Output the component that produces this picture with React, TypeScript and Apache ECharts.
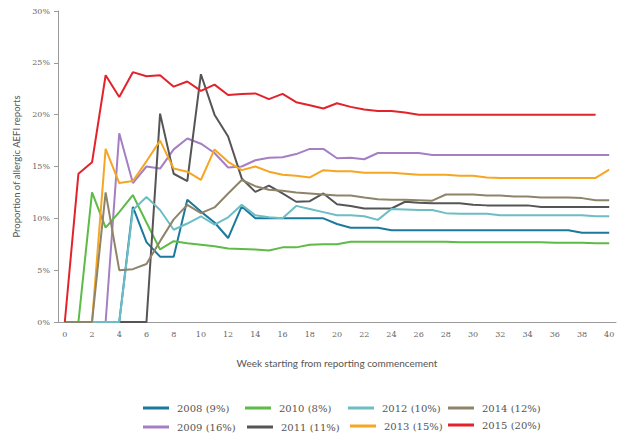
import React, { useEffect, useRef } from "react";
import * as echarts from "echarts";

const weeks = Array.from({ length: 41 }, (_, i) => String(i));

const s2008 = [0, 0, 0, 0, 0, 11.1, 7.7, 6.3, 6.3, 11.8, 10.65, 9.6, 8.1, 11.15, 10.0, 10.0, 10.0, 10.0, 10.0, 10.0, 9.45, 9.1, 9.1, 9.1, 8.85, 8.85, 8.85, 8.85, 8.85, 8.85, 8.85, 8.85, 8.85, 8.85, 8.85, 8.85, 8.85, 8.85, 8.6, 8.6, 8.6];
const s2009 = [0, 0, 0, 0, 18.2, 13.4, 15.0, 14.8, 16.65, 17.7, 17.2, 16.3, 14.9, 15.0, 15.6, 15.85, 15.9, 16.2, 16.7, 16.7, 15.8, 15.85, 15.7, 16.3, 16.3, 16.3, 16.3, 16.1, 16.1, 16.1, 16.1, 16.1, 16.1, 16.1, 16.1, 16.1, 16.1, 16.1, 16.1, 16.1, 16.1];
const s2010 = [0, 0, 12.5, 9.1, 10.6, 12.25, 9.6, 7.0, 7.8, 7.6, 7.45, 7.3, 7.1, 7.05, 7.0, 6.9, 7.2, 7.2, 7.45, 7.5, 7.5, 7.75, 7.75, 7.75, 7.75, 7.75, 7.75, 7.75, 7.75, 7.7, 7.7, 7.7, 7.7, 7.7, 7.7, 7.7, 7.65, 7.65, 7.65, 7.6, 7.6];
const s2011 = [0, 0, 0, 0, 0, 0, 0, 20.1, 14.3, 13.6, 23.9, 20.0, 17.9, 13.85, 12.55, 13.15, 12.4, 11.6, 11.65, 12.4, 11.35, 11.2, 10.95, 10.95, 10.95, 11.6, 11.5, 11.45, 11.45, 11.45, 11.3, 11.25, 11.25, 11.25, 11.25, 11.1, 11.1, 11.1, 11.1, 11.1, 11.1];
const s2012 = [0, 0, 0, 0, 0, 10.8, 12.05, 10.8, 8.9, 9.5, 10.2, 9.4, 10.1, 11.3, 10.3, 10.1, 10.0, 11.2, 10.9, 10.6, 10.3, 10.3, 10.2, 9.85, 10.9, 10.85, 10.8, 10.8, 10.5, 10.45, 10.45, 10.45, 10.3, 10.3, 10.3, 10.3, 10.3, 10.3, 10.3, 10.2, 10.2];
const s2013 = [0, 0, 0, 16.7, 13.4, 13.6, 15.5, 17.5, 14.8, 14.5, 13.7, 16.65, 15.45, 14.65, 15.0, 14.5, 14.2, 14.1, 13.95, 14.65, 14.55, 14.55, 14.4, 14.4, 14.4, 14.3, 14.2, 14.2, 14.2, 14.1, 14.1, 13.95, 13.9, 13.9, 13.9, 13.9, 13.9, 13.9, 13.9, 13.9, 14.7];
const s2014 = [0, 0, 0, 12.5, 5.0, 5.1, 5.6, 7.8, 9.9, 11.3, 10.5, 11.05, 12.4, 13.7, 13.1, 12.75, 12.65, 12.5, 12.4, 12.3, 12.2, 12.2, 12.0, 11.85, 11.8, 11.8, 11.75, 11.7, 12.3, 12.3, 12.3, 12.2, 12.2, 12.1, 12.1, 12.0, 12.0, 12.0, 11.95, 11.75, 11.75];
const s2015 = [0, 14.3, 15.4, 23.8, 21.7, 24.1, 23.7, 23.8, 22.7, 23.2, 22.3, 22.9, 21.9, 22.0, 22.05, 21.5, 22.0, 21.2, 20.9, 20.6, 21.1, 20.75, 20.5, 20.35, 20.35, 20.2, 20.0, 20.0, 20.0, 20.0, 20.0, 20.0, 20.0, 20.0, 20.0, 20.0, 20.0, 20.0, 20.0, 20.0, null];

const seriesNames = ["2008 (9%)", "2009 (16%)", "2010 (8%)", "2011 (11%)", "2012 (10%)", "2013 (15%)", "2014 (12%)", "2015 (20%)"];
const seriesData = [s2008, s2009, s2010, s2011, s2012, s2013, s2014, s2015];
const colors = ["#1b7a9b", "#a57fc4", "#5dbb46", "#555555", "#6dbdc5", "#f5a623", "#8e846a", "#e3232b"];
const yTicks = ["0%", "5%", "10%", "15%", "20%", "25%", "30%"];

// legend positions: [series index, left, top]
const legendPos: [number, number, number][] = [
  [0, 143, 403], [2, 245, 403], [4, 348, 403], [6, 448, 403],
  [1, 143, 422], [3, 247, 422], [5, 350, 421], [7, 448, 420],
];

export default function App() {
  const ref = useRef<HTMLDivElement>(null);
  useEffect(() => {
    if (!ref.current) return;
    const chart = echarts.init(ref.current, null, { renderer: "svg" });
    const axisColor = "#9a9a9a";
    chart.setOption({
      animation: false,
      backgroundColor: "#ffffff",
      color: colors,
      grid: { left: 58, right: 12, top: 11, bottom: 119 },
      legend: legendPos.map(([i, left, top]) => ({
        data: [seriesNames[i]],
        left,
        top,
        padding: 0,
        icon: "rect",
        itemWidth: 26,
        itemHeight: 3,
        textStyle: { fontFamily: "DejaVu Serif", fontSize: 10, color: "#555", padding: [0, 0, 0, 3] },
        selectedMode: false,
      })),
      xAxis: {
        type: "category",
        data: weeks,
        boundaryGap: true,
        name: "Week starting from reporting commencement",
        nameLocation: "middle",
        nameGap: 36,
        nameTextStyle: { fontFamily: "Lato", fontSize: 10, color: "#555" },
        axisLine: { lineStyle: { color: axisColor, width: 1 } },
        axisTick: { alignWithLabel: true, interval: 0, length: 4, lineStyle: { color: axisColor } },
        axisLabel: { interval: 1, fontFamily: "DejaVu Serif", fontSize: 8, color: "#666", margin: 8 },
        splitLine: { show: false },
      },
      yAxis: {
        type: "value",
        min: 0,
        max: 30,
        interval: 5,
        name: "Proportion of allergic AEFI reports",
        nameLocation: "middle",
        nameGap: 37,
        nameTextStyle: { fontFamily: "Lato", fontSize: 9.5, color: "#555" },
        axisLine: { show: true, lineStyle: { color: axisColor, width: 1 } },
        axisTick: { show: true, length: 4, lineStyle: { color: axisColor } },
        axisLabel: {
          fontFamily: "DejaVu Serif",
          fontSize: 8,
          color: "#666",
          margin: 8,
          formatter: (v: number) => yTicks[Math.round(v / 5)] ?? v + "%",
        },
        splitLine: { show: false },
      },
      series: seriesData.map((d, i) => ({
        name: seriesNames[i],
        type: "line",
        data: d,
        showSymbol: false,
        symbol: "none",
        lineStyle: { width: 2, color: colors[i] },
        itemStyle: { color: colors[i] },
        connectNulls: false,
      })),
    });
    return () => chart.dispose();
  }, []);
  return <div ref={ref} style={{ width: 628, height: 441, position: "absolute", left: 0, top: 0 }} />;
}
